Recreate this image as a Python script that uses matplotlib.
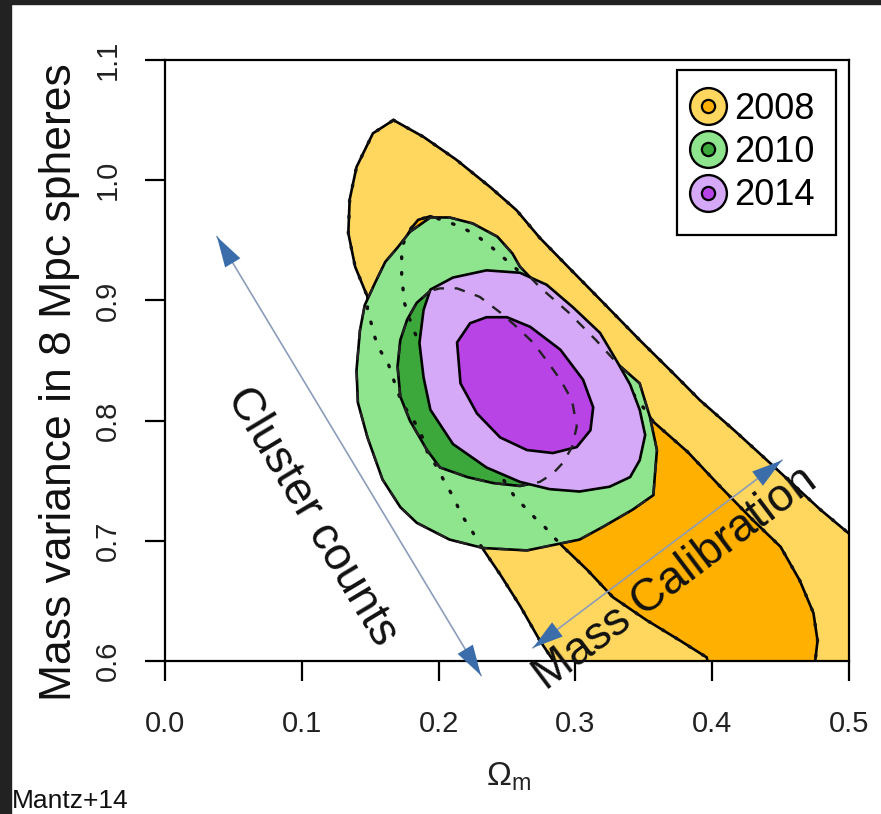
import numpy as np
import matplotlib
matplotlib.use("Agg")
import matplotlib.pyplot as plt
from matplotlib.lines import Line2D
from matplotlib.patches import Rectangle

plt.rcParams['font.family'] = ['Liberation Sans', 'DejaVu Sans']
plt.rcParams['mathtext.fontset'] = 'custom'
plt.rcParams['mathtext.rm'] = 'Liberation Sans'
plt.rcParams['mathtext.it'] = 'Liberation Sans:italic'

# confidence contours in the (Omega_m, sigma_8) plane
# 2008: 95% and 68%
om_08_95 = [0.167, 0.189, 0.213, 0.238, 0.257, 0.274, 0.298, 0.323, 0.347, 0.371,
            0.391, 0.417, 0.442, 0.479, 0.500, 0.530, 0.530, 0.301, 0.284, 0.274,
            0.260, 0.245, 0.2325, 0.228, 0.223, 0.217, 0.213, 0.208, 0.203, 0.199,
            0.192, 0.189, 0.185, 0.179, 0.173, 0.168, 0.163, 0.158, 0.1535, 0.151,
            0.148, 0.148, 0.139, 0.134, 0.135, 0.140, 0.152]
s8_08_95 = [1.050, 1.036, 1.017, 0.994, 0.975, 0.952, 0.924, 0.895, 0.867, 0.840,
            0.817, 0.791, 0.765, 0.726, 0.706, 0.680, 0.550, 0.568, 0.600, 0.617,
            0.645, 0.672, 0.693, 0.701, 0.711, 0.721, 0.731, 0.742, 0.752, 0.761,
            0.773, 0.784, 0.794, 0.805, 0.815, 0.831, 0.848, 0.857, 0.869, 0.880,
            0.892, 0.903, 0.928, 0.956, 0.984, 1.011, 1.039]

om_08_68 = [0.180, 0.185, 0.194, 0.205, 0.212, 0.2215, 0.230, 0.239, 0.247, 0.254,
            0.274, 0.292, 0.311, 0.327, 0.344, 0.357, 0.382, 0.406, 0.430, 0.450,
            0.464, 0.474, 0.477, 0.475, 0.473, 0.402, 0.396, 0.3765, 0.352, 0.3275,
            0.3085, 0.291, 0.285, 0.278, 0.2705, 0.263, 0.256, 0.238, 0.208, 0.190,
            0.181, 0.175, 0.173, 0.173, 0.176]
s8_08_68 = [0.960, 0.967, 0.970, 0.966, 0.963, 0.958, 0.952, 0.944, 0.936, 0.929,
            0.909, 0.885, 0.863, 0.842, 0.820, 0.799, 0.774, 0.745, 0.717, 0.695,
            0.667, 0.640, 0.617, 0.597, 0.568, 0.568, 0.603, 0.617, 0.634, 0.653,
            0.676, 0.695, 0.702, 0.711, 0.719, 0.728, 0.736, 0.767, 0.817, 0.855,
            0.877, 0.898, 0.921, 0.944, 0.952]

# 2010: 95% and 68%
om_10_95 = [0.179, 0.194, 0.208, 0.225, 0.243, 0.254, 0.2595, 0.274, 0.295, 0.315,
            0.331, 0.347, 0.3545, 0.3596, 0.358, 0.357, 0.342, 0.320, 0.303, 0.2646,
            0.2325, 0.208, 0.184, 0.172, 0.159, 0.148, 0.141, 0.140, 0.1425, 0.146,
            0.1535, 0.161, 0.170]
s8_10_95 = [0.957, 0.969, 0.969, 0.964, 0.953, 0.939, 0.928, 0.911, 0.890, 0.867,
            0.847, 0.831, 0.803, 0.7755, 0.753, 0.738, 0.726, 0.7115, 0.701, 0.692,
            0.694, 0.701, 0.715, 0.728, 0.751, 0.786, 0.815, 0.842, 0.875, 0.896,
            0.9145, 0.932, 0.944]

om_10_68 = [0.194, 0.184, 0.177, 0.172, 0.170, 0.172, 0.179, 0.1915, 0.201, 0.221,
            0.240, 0.2595, 0.274, 0.2836, 0.291, 0.2975, 0.301, 0.2975, 0.289, 0.279,
            0.269, 0.257, 0.245, 0.230, 0.2135, 0.201]
s8_10_68 = [0.908, 0.898, 0.884, 0.867, 0.845, 0.820, 0.800, 0.7755, 0.761, 0.753,
            0.748, 0.7456, 0.749, 0.756, 0.765, 0.778, 0.795, 0.817, 0.834, 0.850,
            0.865, 0.878, 0.890, 0.903, 0.910, 0.910]

# 2014: 95% and 68%
om_14_95 = [0.189, 0.194, 0.2105, 0.235, 0.2595, 0.279, 0.298, 0.318, 0.330, 0.340,
            0.347, 0.351, 0.347, 0.340, 0.325, 0.303, 0.281, 0.2595, 0.235, 0.2105,
            0.194, 0.189, 0.186]
s8_14_95 = [0.892, 0.909, 0.919, 0.925, 0.923, 0.913, 0.8945, 0.873, 0.850, 0.830,
            0.809, 0.788, 0.767, 0.753, 0.745, 0.741, 0.743, 0.749, 0.761, 0.7805,
            0.809, 0.836, 0.8646]

om_14_68 = [0.2135, 0.223, 0.235, 0.250, 0.267, 0.289, 0.3056, 0.313, 0.311, 0.301,
            0.2836, 0.2646, 0.245, 0.228, 0.216]
s8_14_68 = [0.865, 0.881, 0.886, 0.886, 0.878, 0.859, 0.834, 0.811, 0.792, 0.778,
            0.773, 0.7755, 0.786, 0.806, 0.831]

years = ['2008', '2010', '2014']
light_cols = ['#FFD75E', '#8EE58E', '#D6A9F8']
dark_cols = ['#FFB000', '#3CA83C', '#B844E6']

# arrow end points and annotation positions
cc_arrow = [(0.038, 0.953), (0.231, 0.588)]
mc_arrow = [(0.269, 0.611), (0.451, 0.767)]
cc_text = (0.107, 0.720)
mc_text = (0.373, 0.669)

xticks = [0.0, 0.1, 0.2, 0.3, 0.4, 0.5]
xticklabels = ['0.0', '0.1', '0.2', '0.3', '0.4', '0.5']
yticks = [0.6, 0.7, 0.8, 0.9, 1.0, 1.1]
yticklabels = ['0.6', '0.7', '0.8', '0.9', '1.0', '1.1']


def closed(a):
    return np.append(a, a[0])


fig = plt.figure(figsize=(8.81, 8.14), dpi=100)
ax = fig.add_axes([165 / 881, 153 / 814, 684 / 881, 601 / 814])
ax.set_xlim(0, 0.5)
ax.set_ylim(0.6, 1.1)

lw = 1.9
ax.fill(om_08_95, s8_08_95, fc=light_cols[0], ec='black', lw=lw, zorder=1)
ax.fill(om_08_68, s8_08_68, fc=dark_cols[0], ec='black', lw=lw, zorder=1.1)
ax.fill(om_10_95, s8_10_95, fc=light_cols[1], ec='black', lw=lw, zorder=2)
ax.fill(om_10_68, s8_10_68, fc=dark_cols[1], ec='black', lw=lw, zorder=2.1)

# 2008 edges hidden by the 2010 regions, dotted
for om, s8 in [(om_08_95, s8_08_95), (om_08_68, s8_08_68)]:
    ax.plot(closed(om), closed(s8), color='#111111', lw=2.4,
            linestyle=(0, (0.5, 4.2)), dash_capstyle='round', zorder=2.5)

ax.fill(om_14_95, s8_14_95, fc=light_cols[2], ec='black', lw=lw, zorder=3)
ax.fill(om_14_68, s8_14_68, fc=dark_cols[2], ec='black', lw=lw, zorder=3.1)

# 2010 edges hidden by the 2014 regions, dashed
for om, s8 in [(om_10_95, s8_10_95), (om_10_68, s8_10_68)]:
    ax.plot(closed(om), closed(s8), color='#222222', lw=1.7,
            linestyle=(0, (4.5, 4.5)), zorder=3.5)

# double headed arrows: thin shaft, solid blue heads
head = '-|>,head_length=1.1,head_width=0.32'
for (a, b) in [cc_arrow, mc_arrow]:
    ax.plot([a[0], b[0]], [a[1], b[1]], color='#8C9DBA', lw=1.2,
            clip_on=False, zorder=5)
    for p, q in [(a, b), (b, a)]:
        ax.annotate('', xy=p, xytext=q, annotation_clip=False, zorder=6,
                    arrowprops=dict(arrowstyle=head, mutation_scale=20,
                                    fc='#3A6DAA', ec='none', lw=0,
                                    shrinkA=0, shrinkB=0))

ax.text(cc_text[0], cc_text[1], 'Cluster counts', rotation=-59,
        rotation_mode='anchor', ha='center', va='center', fontsize=33,
        color='#111111', zorder=7)
ax.text(mc_text[0], mc_text[1], 'Mass Calibration', rotation=37,
        rotation_mode='anchor', ha='center', va='center', fontsize=33,
        color='#111111', zorder=7)

# axes styling
for sp in ax.spines.values():
    sp.set_linewidth(1.6)
    sp.set_color('black')
ax.set_xticks(xticks)
ax.set_xticklabels(xticklabels)
ax.set_yticks(yticks)
ax.set_yticklabels(yticklabels, rotation=90, va='center')
ax.tick_params(length=14.4, width=1.6, labelsize=21, colors='black',
               labelcolor='#222222')
ax.tick_params(axis='x', pad=21)
ax.tick_params(axis='y', pad=17)

ax.set_ylabel('Mass variance in 8 Mpc spheres', fontsize=32, color='#111111')
ax.yaxis.set_label_coords(-0.124, 0.464)
ax.set_xlabel(r'$\Omega_\mathrm{m}$', fontsize=24, color='#222222')
ax.xaxis.set_label_coords(0.503, -0.165)

# legend: light ring with dark centre for each data set
handles = []
for lc, dc in zip(light_cols, dark_cols):
    outer = Line2D([], [], ls='none', marker='o', ms=26.5, mfc=lc,
                   mec='black', mew=1.7)
    inner = Line2D([], [], ls='none', marker='o', ms=9.5, mfc=dc,
                   mec='black', mew=1.6)
    handles.append((outer, inner))
leg = ax.legend(handles, years, loc='upper right',
                bbox_to_anchor=(0.981, 0.9834), borderaxespad=0,
                fontsize=26, frameon=True, fancybox=False, edgecolor='black',
                framealpha=1, handlelength=0.52, handletextpad=0.46,
                borderpad=0.6, labelspacing=0.23)
leg.get_frame().set_linewidth(1.6)
leg.set_zorder(10)

fig.text(12 / 881, 1 / 814, 'Mantz+14', fontsize=19, va='bottom',
         color='#111111')

# dark frame strips on the left and top edges
fig.add_artist(Rectangle((0, 0), 11 / 881, 1, transform=fig.transFigure,
                         color='#222222', zorder=20))
fig.add_artist(Rectangle((0, 1 - 4 / 814), 1, 4 / 814,
                         transform=fig.transFigure, color='#222222', zorder=20))

fig.savefig('out.png', dpi=100)
